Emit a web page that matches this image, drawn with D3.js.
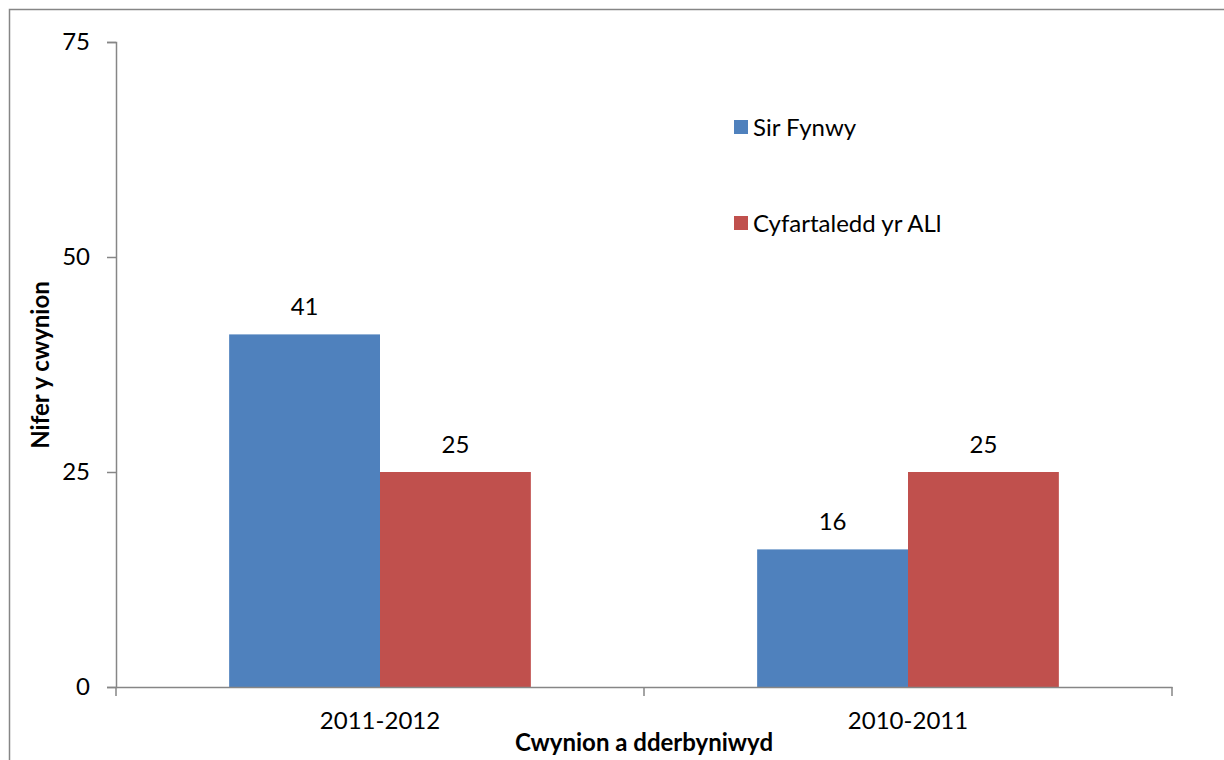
<!DOCTYPE html>
<html lang="cy">
<head>
  <meta charset="UTF-8">
  <title>Cwynion a dderbyniwyd</title>
  <script src="https://d3js.org/d3.v7.min.js"></script>
  <style>
    body {
      margin: 0;
      background: white;
      font-family: Lato, "Liberation Sans", sans-serif;
    }
    svg text {
      fill: #000;
    }
  </style>
</head>
<body>

<svg id="chart" width="1224" height="760"></svg>

<script>
  // data
  const categories = ["2011-2012", "2010-2011"];
  const series = ["Sir Fynwy", "Cyfartaledd yr ALl"];
  const sirFynwy = [41, 16];
  const cyfartaledd = [25, 25];
  const yTicks = [0, 25, 50, 75];
  const colors = ["#4F81BD", "#C0504D"];

  const values = [sirFynwy, cyfartaledd];
  const svg = d3.select("#chart");
  const axisColor = "#868686";
  const fontSize = "24px";

  const plotLeft = 116, plotRight = 1172, plotTop = 42, plotBottom = 687;

  // outer chart frame (runs off the picture on the right and bottom)
  svg.append("rect")
    .attr("x", 9.5)
    .attr("y", 9.5)
    .attr("width", 1240)
    .attr("height", 780)
    .attr("fill", "none")
    .attr("stroke", axisColor)
    .attr("stroke-width", 1.5);

  const x = d3.scaleBand()
    .domain(categories)
    .range([plotLeft, plotRight])
    .padding(0);

  const xSub = d3.scaleBand()
    .domain(series)
    .range([0, x.bandwidth()])
    .paddingInner(0)
    .paddingOuter(0.75);

  const y = d3.scaleLinear()
    .domain([0, 75])
    .range([plotBottom, plotTop]);

  // bars
  const groups = svg.selectAll(".group")
    .data(categories)
    .enter()
    .append("g")
    .attr("transform", d => `translate(${x(d)},0)`);

  groups.each(function(cat, ci) {
    const g = d3.select(this);
    series.forEach((s, si) => {
      const v = values[si][ci];
      g.append("rect")
        .attr("x", xSub(s))
        .attr("y", y(v))
        .attr("width", xSub.bandwidth())
        .attr("height", y(0) - y(v))
        .attr("fill", colors[si]);

      g.append("text")
        .attr("x", xSub(s) + xSub.bandwidth() / 2)
        .attr("y", y(v) - 19)
        .attr("text-anchor", "middle")
        .style("font-size", fontSize)
        .text(v);
    });
  });

  // y axis
  const yAxis = svg.append("g")
    .attr("transform", `translate(${plotLeft},0)`)
    .call(d3.axisLeft(y).tickValues(yTicks).tickSize(9).tickPadding(17));

  // x axis
  const xAxis = svg.append("g")
    .attr("transform", `translate(0,${plotBottom})`)
    .call(d3.axisBottom(x).tickSize(0).tickPadding(25));

  // x ticks sit on the category boundaries
  xAxis.selectAll(".boundary")
    .data([plotLeft, ...categories.map(c => x(c) + x.bandwidth())])
    .enter()
    .append("line")
    .attr("x1", d => d)
    .attr("x2", d => d)
    .attr("y1", 0)
    .attr("y2", 9)
    .attr("stroke", axisColor)
    .attr("stroke-width", 1.5);

  [yAxis, xAxis].forEach(a => {
    a.select(".domain").attr("stroke", axisColor).attr("stroke-width", 1.5);
    a.selectAll(".tick line").attr("stroke", axisColor).attr("stroke-width", 1.5);
    a.selectAll(".tick text")
      .style("font-family", "Lato, 'Liberation Sans', sans-serif")
      .style("font-size", fontSize)
      .attr("fill", "#000");
  });

  // axis titles
  svg.append("text")
    .attr("x", (plotLeft + plotRight) / 2)
    .attr("y", 751)
    .attr("text-anchor", "middle")
    .style("font-size", fontSize)
    .style("font-weight", "bold")
    .text("Cwynion a dderbyniwyd");

  svg.append("text")
    .attr("transform", "translate(49,365) rotate(-90)")
    .attr("text-anchor", "middle")
    .style("font-size", fontSize)
    .style("font-weight", "bold")
    .text("Nifer y cwynion");

  // legend
  const legend = svg.append("g")
    .attr("transform", "translate(734,0)");

  const legendY = [128, 224];

  series.forEach((s, i) => {
    legend.append("rect")
      .attr("x", 0)
      .attr("y", legendY[i] - 8)
      .attr("width", 14)
      .attr("height", 14)
      .attr("fill", colors[i]);

    legend.append("text")
      .attr("x", 19)
      .attr("y", legendY[i])
      .attr("dy", "0.35em")
      .style("font-size", fontSize)
      .text(s);
  });
</script>

</body>
</html>
